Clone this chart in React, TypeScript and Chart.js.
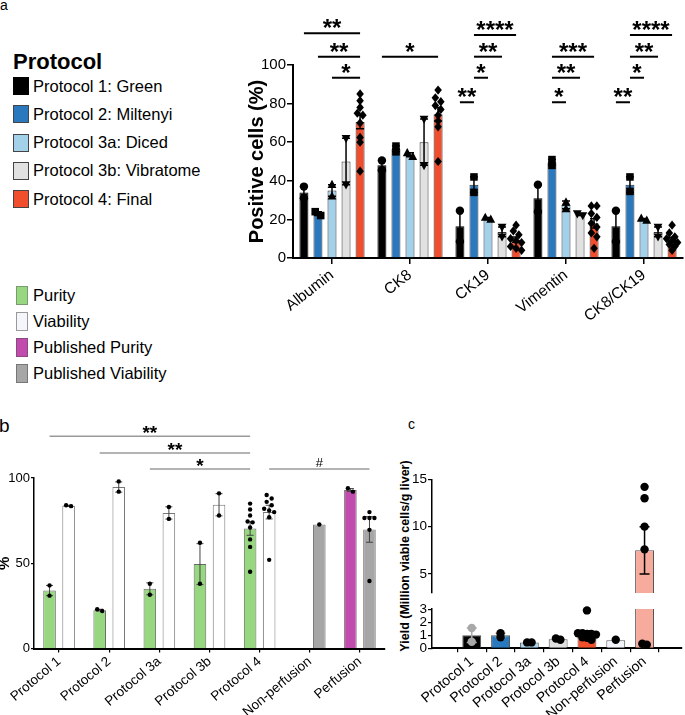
import React, { useEffect, useRef } from 'react';
import { Chart, registerables } from 'chart.js';

Chart.register(...registerables);

const FONT = '"Liberation Sans", Arial, Helvetica, sans-serif';
Chart.defaults.font.family = FONT;
Chart.defaults.color = '#000';

// ---------------- Panel a data ----------------
const aCategories = ['Albumin', 'CK8', 'CK19', 'Vimentin', 'CK8/CK19'];
const aProtocols = ['Protocol 1: Green', 'Protocol 2: Miltenyi', 'Protocol 3a: Diced', 'Protocol 3b: Vibratome', 'Protocol 4: Final'];
const aColors = ['#000000', '#2a79be', '#a4d1ea', '#e1e1e1', '#f04e2c'];
const aShapes = ['circle', 'square', 'triangle', 'triangleDown', 'diamond'];
const aP1 = [34, 48, 16.5, 31, 16.5];
const aP2 = [23, 56.5, 38, 49.5, 38];
const aP3a = [35, 53.5, 20.5, 27.5, 20];
const aP3b = [50, 60, 13.5, 22.5, 13.5];
const aP4 = [70.5, 74.5, 9.5, 18, 9.5];
const aP1Err = [3, 2.5, 8, 7, 8];
const aP2Err = [1, 1.5, 4, 1.5, 4];
const aP3aErr = [3, 1, 0.5, 2, 0.5];
const aP3bErr = [12, 12, 2.5, 0.5, 2.5];
const aP4Err = [3.5, 3.5, 1.4, 2.4, 1.3];
const aP1Pts = [[37, 31], [50.5, 45.5], [24.5, 8.5], [38, 24], [24.5, 8.5]];
const aP2Pts = [[22, 24], [55, 58], [42, 34], [48, 51], [42, 34.5]];
const aP3aPts = [[38, 32], [52.5, 54.5], [20, 21], [29, 25.5], [20.5, 19.5]];
const aP3bPts = [[62, 38], [72, 48], [16, 11], [23, 22], [16, 11]];
const aP4Pts = [
  [85, 81.5, 78, 75, 74, 70, 62.5, 60, 45],
  [87, 83, 81, 79, 77, 74, 71, 68, 50],
  [17, 14, 12, 10, 9, 8, 6, 5, 4],
  [27, 27, 23, 21, 18, 16, 13, 11, 5],
  [17, 13, 11, 10, 9, 8, 7, 6, 4],
];
const aTicks = [0, 20, 40, 60, 80, 100];
// significance brackets: series s1 -> s2 within category c, at level y (data units)
const aBrackets = [
  { c: 0, s1: 0, s2: 4, y: 116.5, t: '**' },
  { c: 0, s1: 1, s2: 4, y: 104.3, t: '**' },
  { c: 0, s1: 2, s2: 4, y: 93.4, t: '*' },
  { c: 1, s1: 0, s2: 4, y: 104.3, t: '*' },
  { c: 2, s1: 1, s2: 4, y: 115.5, t: '****' },
  { c: 2, s1: 1, s2: 3, y: 104.3, t: '**' },
  { c: 2, s1: 1, s2: 2, y: 93.4, t: '*' },
  { c: 2, s1: 0, s2: 1, y: 80.7, t: '**' },
  { c: 3, s1: 1, s2: 4, y: 104.3, t: '***' },
  { c: 3, s1: 1, s2: 3, y: 93.4, t: '**' },
  { c: 3, s1: 1, s2: 2, y: 80.7, t: '*' },
  { c: 4, s1: 1, s2: 4, y: 115.5, t: '****' },
  { c: 4, s1: 1, s2: 3, y: 104.3, t: '**' },
  { c: 4, s1: 1, s2: 2, y: 93.4, t: '*' },
  { c: 4, s1: 0, s2: 1, y: 80.7, t: '**' },
];

// ---------------- Panel b data ----------------
const bCategories = ['Protocol 1', 'Protocol 2', 'Protocol 3a', 'Protocol 3b', 'Protocol 4', 'Non-perfusion', 'Perfusion'];
const bPurity = [34, 22.5, 35, 49.5, 70.4, null, 93];
const bPurityErr = [3, 0.5, 3.5, 12, 4, 0, 0.8];
const bPurityPts = [[37, 31], [22, 23], [38, 31.5], [62, 38], [85, 81.5, 78, 74.5, 74, 71, 64, 59.6, 45], [], [92, 94]];
const bPurityColors = ['#97d77f', '#97d77f', '#97d77f', '#97d77f', '#97d77f', '#97d77f', '#c24cad'];
const bViability = [83.7, 94.7, 79.5, 84.3, 80, 72.7, 69.8];
const bViabilityErr = [0.3, 3, 3.6, 6.5, 4, 0, 7.5];
const bViabilityPts = [[83.5, 84], [98, 92], [83, 76], [91, 78], [90, 88, 86, 84, 82, 81, 80, 77, 52], [72.7], [80, 76.5, 76.5, 76.5, 69.6, 39.6]];
const bViabilityColors = ['#ffffff', '#ffffff', '#ffffff', '#ffffff', '#ffffff', '#a6a6a6', '#a6a6a6'];
const bTicks = [0, 50, 100];
const bBrackets = [
  { s1: 0, c1: 0, s2: 0, c2: 4, y: 124.5, t: '**' },
  { s1: 0, c1: 1, s2: 0, c2: 4, y: 114.7, t: '**' },
  { s1: 0, c1: 2, s2: 0, c2: 4, y: 105.3, t: '*' },
  { s1: 1, c1: 4, s2: 1, c2: 6, y: 105.3, t: '#' },
];
const bLegend = ['Purity', 'Viability', 'Published Purity', 'Published Viability'];
const bLegendColors = ['#97d77f', '#f5f6fb', '#c24cad', '#a6a6a6'];
const bLegendBorders = ['#7a9a70', '#999999', '#8a4a80', '#777777'];

// ---------------- Panel c data ----------------
const cCategories = ['Protocol 1', 'Protocol 2', 'Protocol 3a', 'Protocol 3b', 'Protocol 4', 'Non-perfusion', 'Perfusion'];
const cYield = [1.0, 1.0, 0.45, 0.7, 1.2, 0.62, 7.5];
const cYieldErr = [0.55, 0.15, 0.02, 0.05, 0.15, 0, 2.5];
const cYieldPts = [[1.55, 0.5], [0.85, 1.15], [0.45, 0.45], [0.65, 0.75], [2.9, 1.15, 1.15, 1.1, 1.1, 1.05, 0.85, 0.8, 0.65], [0.65], [14.2, 13, 10, 7.6, 0.28, 0.35]];
const cColors = ['#000000', '#2a79be', '#a9d5ee', '#e0e0e0', '#f24f2a', '#f3f4fb', '#f6ab9d'];
const cPointColors = ['#a8a8a8', '#000000', '#000000', '#000000', '#000000', '#000000', '#000000'];
const cErrColors = ['#a8a8a8', '#a8a8a8', '#000000', '#000000', '#000000', '#000000', '#000000'];
const cTopTicks = [5, 10, 15];
const cBottomTicks = [0, 1, 2, 3];

// ---------------- helpers ----------------
function drawShape(ctx: any, shape: string, x: number, y: number, r: number) {
  ctx.beginPath();
  if (shape === 'square') {
    ctx.rect(x - r * 0.9, y - r * 0.9, r * 1.8, r * 1.8);
  } else if (shape === 'triangle') {
    ctx.moveTo(x, y - r * 1.15);
    ctx.lineTo(x + r * 1.05, y + r * 0.8);
    ctx.lineTo(x - r * 1.05, y + r * 0.8);
    ctx.closePath();
  } else if (shape === 'triangleDown') {
    ctx.moveTo(x, y + r * 1.15);
    ctx.lineTo(x + r * 1.05, y - r * 0.8);
    ctx.lineTo(x - r * 1.05, y - r * 0.8);
    ctx.closePath();
  } else if (shape === 'diamond') {
    ctx.moveTo(x, y - r * 1.1);
    ctx.lineTo(x + r * 0.9, y);
    ctx.lineTo(x, y + r * 1.1);
    ctx.lineTo(x - r * 0.9, y);
    ctx.closePath();
  } else {
    ctx.arc(x, y, r, 0, Math.PI * 2);
  }
  ctx.fill();
}

const extrasPlugin = {
  id: 'extras',
  afterDatasetsDraw(chart: any) {
    const ctx = chart.ctx;
    const area = chart.chartArea;
    chart.data.datasets.forEach((ds: any, di: number) => {
      const meta = chart.getDatasetMeta(di);
      const ys = chart.scales[meta.yAxisID];
      meta.data.forEach((bar: any, i: number) => {
        const raw = ds.data[i];
        const val = raw !== null && typeof raw === 'object' ? raw.y : raw;
        if (val === null || val === undefined) return;
        const x = bar.x;
        const e = ds.errs ? ds.errs[i] : 0;
        const errColor = Array.isArray(ds.errColor) ? ds.errColor[i] : ds.errColor;
        if (e > 0) {
          ctx.save();
          ctx.beginPath();
          ctx.rect(area.left - 50, area.top, area.right - area.left + 100, area.bottom - area.top);
          ctx.clip();
          const yT = ys.getPixelForValue(val + e);
          const yB = ys.getPixelForValue(Math.max(val - e, ys.min));
          ctx.strokeStyle = errColor;
          ctx.lineWidth = ds.errWidth;
          ctx.beginPath();
          ctx.moveTo(x, yT);
          ctx.lineTo(x, yB);
          ctx.moveTo(x - ds.capW, yT);
          ctx.lineTo(x + ds.capW, yT);
          if (val - e > ys.min) {
            ctx.moveTo(x - ds.capW, yB);
            ctx.lineTo(x + ds.capW, yB);
          }
          ctx.stroke();
          ctx.restore();
        }
        const pts: number[] = ds.pts ? ds.pts[i] : [];
        const inRange = pts.filter((v) => v >= ys.min - 1e-9 && v <= ys.max + 1e-9);
        const pys = inRange.map((v) => ys.getPixelForValue(v)).sort((p, q) => p - q);
        const rows: number[][] = [];
        let cur: number[] = [];
        let start = 0;
        pys.forEach((py) => {
          if (cur.length && py - start < ds.rowGap) cur.push(py);
          else {
            if (cur.length) rows.push(cur);
            cur = [py];
            start = py;
          }
        });
        if (cur.length) rows.push(cur);
        ctx.save();
        ctx.fillStyle = Array.isArray(ds.ptColor) ? ds.ptColor[i] : ds.ptColor;
        rows.forEach((row) =>
          row.forEach((py, k) => {
            const px = x + (k - (row.length - 1) / 2) * ds.ptSpacing;
            drawShape(ctx, ds.shape, px, py, ds.ptR);
          })
        );
        ctx.restore();
      });
    });
  },
};

function makeBrackets(id: string, items: any[], style: any) {
  return {
    id,
    afterDraw(chart: any) {
      const ctx = chart.ctx;
      const ys = chart.scales.y;
      ctx.save();
      items.forEach((it) => {
        const c1 = it.c1 !== undefined ? it.c1 : it.c;
        const c2 = it.c2 !== undefined ? it.c2 : it.c;
        const x1 = chart.getDatasetMeta(it.s1).data[c1].x;
        const x2 = chart.getDatasetMeta(it.s2).data[c2].x;
        const y = ys.getPixelForValue(it.y);
        ctx.strokeStyle = style.lineColor;
        ctx.lineWidth = style.lineWidth;
        ctx.beginPath();
        ctx.moveTo(x1, y);
        ctx.lineTo(x2, y);
        ctx.stroke();
        const isHash = it.t === '#';
        ctx.font = isHash ? style.hashFont : style.starFont;
        ctx.fillStyle = '#000';
        ctx.textAlign = 'center';
        ctx.textBaseline = 'alphabetic';
        ctx.fillText(it.t, (x1 + x2) / 2, y + (isHash ? style.hashDy : style.starDy));
      });
      ctx.restore();
    },
  };
}

const fixedTicks = (vals: number[]) => (s: any) => {
  s.ticks = vals.map((v) => ({ value: v }));
};

// ---------------- configs ----------------
function configA(): any {
  const series = [aP1, aP2, aP3a, aP3b, aP4];
  const errs = [aP1Err, aP2Err, aP3aErr, aP3bErr, aP4Err];
  const pts = [aP1Pts, aP2Pts, aP3aPts, aP3bPts, aP4Pts];
  return {
    type: 'bar',
    data: {
      labels: aCategories,
      datasets: series.map((vals, k) => ({
        label: aProtocols[k],
        data: vals,
        backgroundColor: aColors[k],
        borderColor: k === 0 ? '#000' : '#333',
        borderWidth: 1,
        barPercentage: 0.64,
        categoryPercentage: 0.9,
        errs: errs[k],
        pts: pts[k],
        shape: aShapes[k],
        ptColor: '#000',
        ptR: 4.2,
        ptSpacing: 5.5,
        rowGap: 4,
        errColor: '#000',
        errWidth: 1.5,
        capW: 4,
      })),
    },
    options: {
      responsive: false,
      animation: false,
      layout: { padding: { top: 65, right: 2, left: 0, bottom: 0 } },
      plugins: { legend: { display: false }, tooltip: { enabled: false } },
      scales: {
        x: {
          grid: { display: true, offset: false, drawOnChartArea: false, drawTicks: true, tickLength: 6, color: '#000', lineWidth: 1.5 },
          border: { color: '#000', width: 2 },
          ticks: { color: '#000', font: { size: 15.5 }, maxRotation: 38, minRotation: 38, padding: 2, autoSkip: false },
          afterFit: (s: any) => {
            s.height = 77;
          },
        },
        y: {
          min: 0,
          max: 100,
          afterBuildTicks: fixedTicks(aTicks),
          ticks: { color: '#000', font: { size: 15 }, padding: 1, autoSkip: false },
          grid: { drawOnChartArea: false, tickLength: 6, color: '#000', lineWidth: 1.5 },
          border: { color: '#000', width: 2 },
          title: { display: true, text: 'Positive cells (%)', color: '#000', font: { size: 20, weight: 'bold' }, padding: { top: 15, bottom: 0 } },
          afterFit: (s: any) => {
            s.width = 63;
          },
        },
      },
    },
    plugins: [
      extrasPlugin,
      makeBrackets('bracketsA', aBrackets, { lineColor: '#000', lineWidth: 2, starFont: `bold 24px ${FONT}`, hashFont: `14px ${FONT}`, starDy: 3, hashDy: -1 }),
    ],
  };
}

function configB(): any {
  const common = {
    borderWidth: 1,
    barPercentage: 0.66,
    categoryPercentage: 0.76,
    shape: 'circle',
    ptColor: '#000',
    ptR: 2.2,
    ptSpacing: 5,
    rowGap: 3.5,
    errColor: '#444',
    errWidth: 1,
    capW: 3.5,
  };
  return {
    type: 'bar',
    data: {
      labels: bCategories,
      datasets: [
        { ...common, label: 'Purity', data: bPurity, backgroundColor: bPurityColors, borderColor: '#6a6a6a', errs: bPurityErr, pts: bPurityPts },
        { ...common, label: 'Viability', data: bViability, backgroundColor: bViabilityColors, borderColor: '#777', errs: bViabilityErr, pts: bViabilityPts },
      ],
    },
    options: {
      responsive: false,
      animation: false,
      layout: { padding: { top: 58, right: 10, left: 0, bottom: 0 } },
      plugins: { legend: { display: false }, tooltip: { enabled: false } },
      scales: {
        x: {
          grid: { display: true, offset: false, drawOnChartArea: false, drawTicks: true, tickLength: 4, color: '#000', lineWidth: 1.2 },
          border: { color: '#000', width: 2 },
          ticks: { color: '#000', font: { size: 13.5 }, maxRotation: 40, minRotation: 40, padding: 1, autoSkip: false },
          afterFit: (s: any) => {
            s.height = 66.5;
          },
        },
        y: {
          min: 0,
          max: 100,
          afterBuildTicks: fixedTicks(bTicks),
          ticks: { color: '#000', font: { size: 13 }, padding: 1, autoSkip: false },
          grid: { drawOnChartArea: false, tickLength: 3, color: '#000', lineWidth: 1.2 },
          border: { color: '#000', width: 1.5 },
          title: { display: true, text: '%', color: '#000', font: { size: 15, weight: 'bold' }, padding: { top: -4, bottom: 0 } },
          afterFit: (s: any) => {
            s.width = 34;
          },
        },
      },
    },
    plugins: [
      extrasPlugin,
      makeBrackets('bracketsB', bBrackets, { lineColor: '#9a9a9a', lineWidth: 1.5, starFont: `bold 19px ${FONT}`, hashFont: `13px ${FONT}`, starDy: 3, hashDy: -2 }),
    ],
  };
}

function configC(part: 'top' | 'bottom'): any {
  const isTop = part === 'top';
  return {
    type: 'bar',
    data: {
      datasets: [
        {
          label: 'Yield',
          data: cYield.map((v, i) => ({ x: i, y: v })),
          backgroundColor: cColors,
          borderColor: '#555',
          borderWidth: 1,
          barPercentage: 0.8,
          categoryPercentage: 0.82,
          errs: cYieldErr,
          pts: cYieldPts,
          shape: 'circle',
          ptColor: cPointColors,
          ptR: 4.2,
          ptSpacing: 4.5,
          rowGap: 3,
          errColor: cErrColors,
          errWidth: 1.5,
          capW: 5,
        },
      ],
    },
    options: {
      responsive: false,
      animation: false,
      layout: { padding: { top: isTop ? 9.3 : 8.3, right: 3, left: 0, bottom: 0 } },
      plugins: { legend: { display: false }, tooltip: { enabled: false } },
      scales: {
        x: {
          type: 'linear',
          display: !isTop,
          min: -0.76,
          max: 6.68,
          afterBuildTicks: fixedTicks(cCategories.map((_, i) => i)),
          grid: { display: true, drawOnChartArea: false, drawTicks: true, tickLength: 4, color: '#000', lineWidth: 1.2 },
          border: { color: '#000', width: 2 },
          ticks: {
            color: '#000',
            font: { size: 14 },
            maxRotation: 40,
            minRotation: 40,
            padding: 1,
            autoSkip: false,
            callback: (v: any) => (cCategories[v] !== undefined ? cCategories[v] : ''),
          },
          afterFit: (s: any) => {
            s.height = isTop ? 0 : 66.7;
          },
        },
        y: {
          min: isTop ? 3 : 0,
          max: isTop ? 15 : 3,
          afterBuildTicks: fixedTicks(isTop ? cTopTicks : cBottomTicks),
          ticks: { color: '#000', font: { size: 13.5 }, padding: 1, autoSkip: false },
          grid: { drawOnChartArea: false, tickLength: 4, color: '#000', lineWidth: 1.2 },
          border: { color: '#000', width: 1.5 },
          afterFit: (s: any) => {
            s.width = 37;
          },
        },
      },
    },
    plugins: [extrasPlugin],
  };
}

// ---------------- components ----------------
function ChartCanvas(props: { left: number; top: number; width: number; height: number; make: () => any }) {
  const ref = useRef<HTMLCanvasElement | null>(null);
  useEffect(() => {
    if (!ref.current) return;
    const chart = new Chart(ref.current, props.make());
    return () => chart.destroy();
  }, []);
  return (
    <canvas
      ref={ref}
      width={props.width}
      height={props.height}
      style={{ position: 'absolute', left: props.left, top: props.top, width: props.width, height: props.height, display: 'block' }}
    />
  );
}

export default function App() {
  const txt: any = { position: 'absolute', fontFamily: FONT, color: '#000', whiteSpace: 'nowrap' };
  return (
    <div style={{ position: 'absolute', left: 0, top: 0, width: 685, height: 715, background: '#fff', overflow: 'hidden', fontFamily: FONT }}>
      <div style={{ ...txt, left: 0, top: -2, fontSize: 14, lineHeight: '14px' }}>a</div>
      <div style={{ ...txt, left: 13, top: 48, fontSize: 22, fontWeight: 'bold', lineHeight: '28px' }}>Protocol</div>
      {aProtocols.map((p, k) => (
        <div key={p} style={{ ...txt, left: 13, top: 72 + k * 28.3, height: 28, display: 'flex', alignItems: 'center', fontSize: 16.5 }}>
          <span
            style={{
              display: 'inline-block',
              width: 14,
              height: 16,
              background: aColors[k],
              border: `1px solid ${k === 0 ? '#000' : '#444'}`,
              marginRight: 4,
            }}
          />
          <span>{p}</span>
        </div>
      ))}
      {bLegend.map((p, k) => (
        <div key={p} style={{ ...txt, left: 16, top: 282 + k * 26.1, height: 26, display: 'flex', alignItems: 'center', fontSize: 16.5 }}>
          <span
            style={{
              display: 'inline-block',
              width: 10,
              height: 17,
              background: bLegendColors[k],
              border: `1px solid ${bLegendBorders[k]}`,
              marginRight: 5,
            }}
          />
          <span>{p}</span>
        </div>
      ))}
      <ChartCanvas left={230} top={0} width={455} height={335} make={configA} />

      <div style={{ ...txt, left: -1, top: 415.6, fontSize: 19, lineHeight: '19px' }}>b</div>
      <ChartCanvas left={0} top={420} width={395} height={295} make={configB} />

      <div style={{ ...txt, left: 408, top: 417, fontSize: 14, lineHeight: '14px' }}>c</div>
      <div
        style={{
          ...txt,
          left: 305,
          top: 548,
          width: 200,
          textAlign: 'center',
          fontSize: 12.5,
          fontWeight: 'bold',
          lineHeight: '16px',
          transform: 'rotate(-90deg)',
          transformOrigin: '100px 8px',
        }}
      >
        Yield (Million viable cells/g liver)
      </div>
      <ChartCanvas left={395} top={470} width={290} height={132} make={() => configC('top')} />
      <ChartCanvas left={395} top={600} width={290} height={115} make={() => configC('bottom')} />
    </div>
  );
}
